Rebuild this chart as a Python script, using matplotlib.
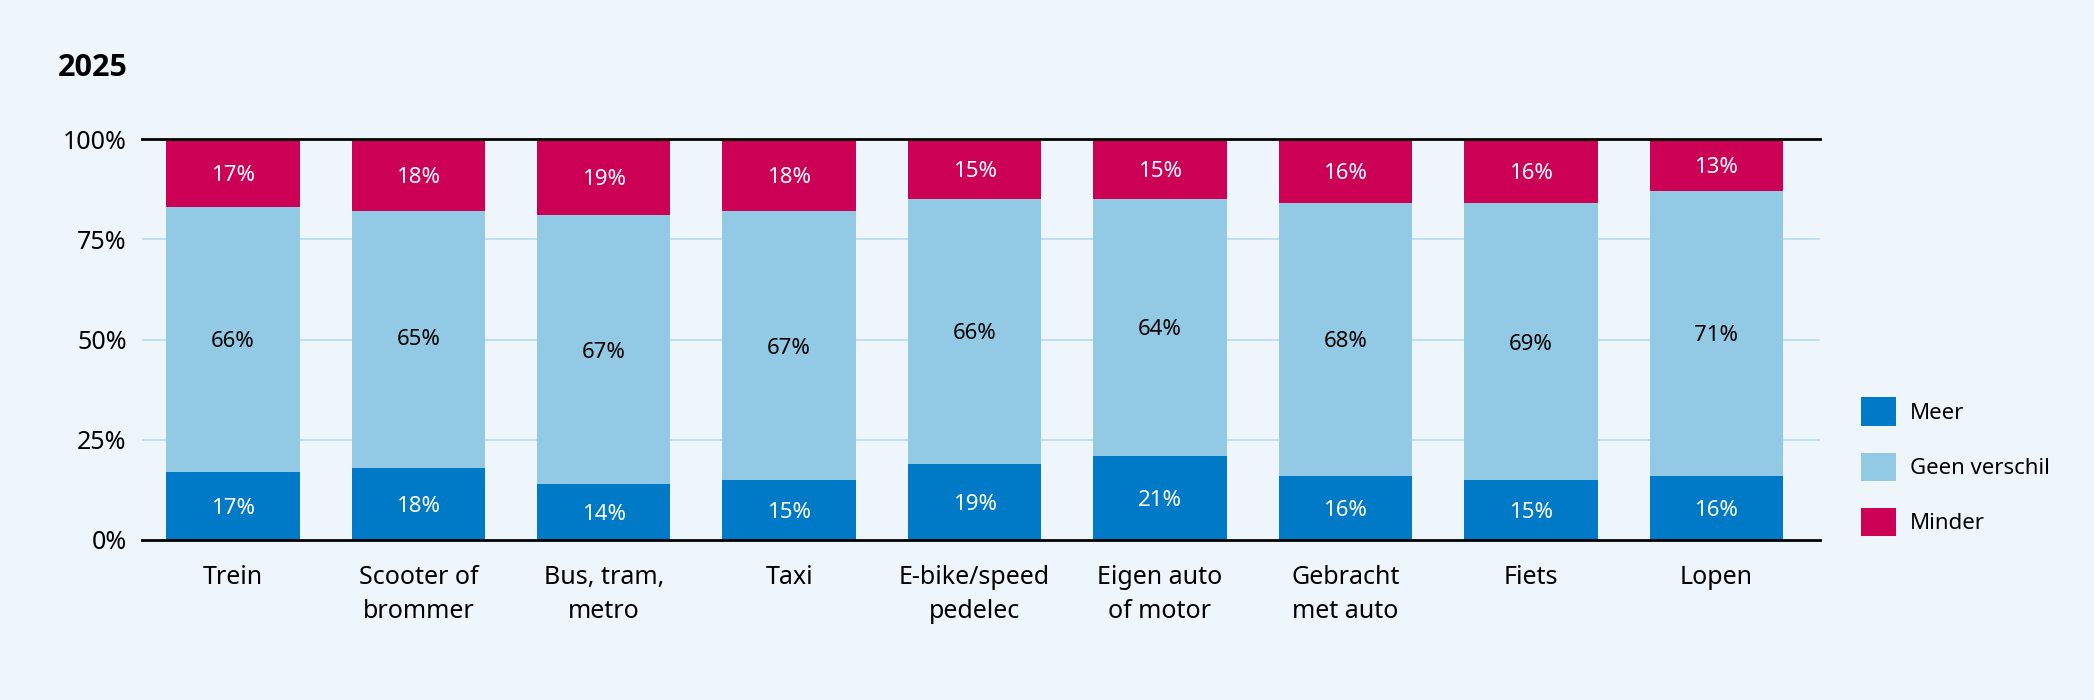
import numpy as np
import matplotlib.pyplot as plt

# Data (2025)
categories = ['Trein', 'Scooter of\nbrommer', 'Bus, tram,\nmetro', 'Taxi',
              'E-bike/speed\npedelec', 'Eigen auto\nof motor', 'Gebracht\nmet auto',
              'Fiets', 'Lopen']
meer = [17, 18, 14, 15, 19, 21, 16, 15, 16]
geen_verschil = [66, 65, 67, 67, 66, 64, 68, 69, 71]
minder = [17, 18, 19, 18, 15, 15, 16, 16, 13]

series_names = ['Meer', 'Geen verschil', 'Minder']
series_colors = ['#0079C6', '#92CAE5', '#CC0055']
label_colors = ['white', 'black', 'white']
y_ticks = [0, 25, 50, 75, 100]

BG = '#EEF6FC'
plt.rcParams['font.family'] = ['Noto Sans', 'DejaVu Sans']

fig = plt.figure(figsize=(20.94, 7), dpi=100, facecolor=BG)
ax = fig.add_axes([0.0678, 0.2286, 0.8014, 0.5728], facecolor=BG)

x = np.arange(len(categories))
meer_a = np.array(meer, dtype=float)
geen_a = np.array(geen_verschil, dtype=float)
minder_a = np.array(minder, dtype=float)

# Meer and Geen verschil stack from the bottom, Minder hangs from the top (100%)
layers = [
    (meer_a, np.zeros(len(x))),
    (geen_a, meer_a),
    (minder_a, 100 - minder_a),
]
handles = []
for (vals, bottom), name, col, lcol in zip(layers, series_names, series_colors, label_colors):
    h = np.minimum(vals, 100 - bottom)
    bars = ax.bar(x, h, 0.72, bottom=bottom, color=col, label=name, zorder=2)
    handles.append(bars)
    for xi, b, hv, v in zip(x, bottom, h, vals):
        ax.text(xi, b + hv / 2, f'{int(v)}%', ha='center', va='center_baseline',
                color=lcol, fontsize=16, zorder=3)

ax.set_xlim(-0.49, 8.56)
ax.set_ylim(0, 100)
ax.set_yticks(y_ticks)
ax.set_yticklabels([f'{t}%' for t in y_ticks], fontsize=18)
ax.set_xticks(x)
ax.set_xticklabels(categories, fontsize=18, linespacing=1.45)
ax.tick_params(axis='both', length=0)
ax.tick_params(axis='y', pad=11)
ax.tick_params(axis='x', pad=18)

for s in ['left', 'right']:
    ax.spines[s].set_visible(False)
for s in ['top', 'bottom']:
    ax.spines[s].set_linewidth(2)
    ax.spines[s].set_color('black')
    ax.spines[s].set_zorder(4)

for t in [25, 50, 75]:
    ax.axhline(t, color='#BFE0F0', linewidth=1.5, zorder=1)

fig.text(0.0277, 0.903, '2025', fontsize=22, fontweight='bold', ha='left', va='center',
         family=['Open Sans', 'DejaVu Sans'])

leg = fig.legend(handles, series_names, loc='center left', bbox_to_anchor=(0.879, 0.333),
                 frameon=False, fontsize=16, handlelength=1.6, handleheight=1.6,
                 labelspacing=1.2, handletextpad=0.6)

fig.savefig('out.png', dpi=100, facecolor=BG)
